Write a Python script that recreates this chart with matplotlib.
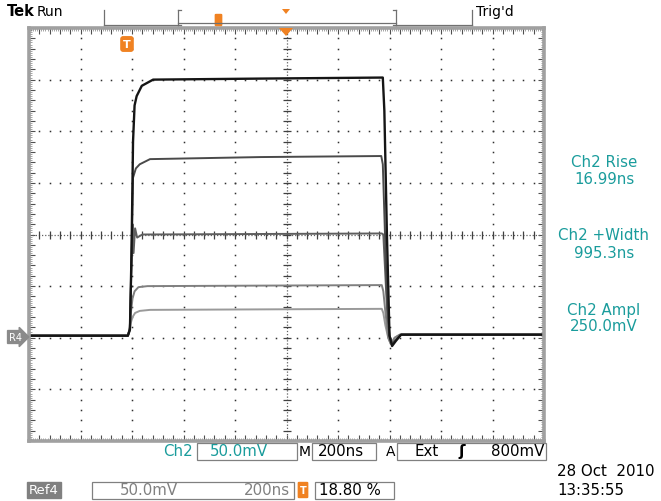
import matplotlib
matplotlib.use("Agg")
import matplotlib.pyplot as plt
import numpy as np
from matplotlib.patches import Rectangle, FancyBboxPatch, Polygon

# ---------------- data ----------------
# time in ns (0..2000 over 10 divisions, 200 ns/div), voltage in mV (center = 0, 50 mV/div)
t1 = [0, 384, 392, 398, 404, 410, 418, 438, 482, 900, 1374, 1380, 1390, 1400, 1410, 1425, 1445, 2000]
v1 = [-98, -98, -92, -20, 90, 125, 134, 144, 150, 151, 152, 120, 0, -98, -108, -103, -97, -97]

t2 = [0, 384, 392, 398, 404, 415, 430, 470, 900, 1368, 1374, 1380, 1390, 1400, 1410, 1425, 1445, 2000]
v2 = [-98, -98, -92, -20, 55, 64, 68, 73, 75, 76, 68, 20, -60, -98, -106, -102, -97, -97]

t3 = [0, 384, 392, 398, 402, 406, 412, 420, 440, 1370, 1376, 1384, 1392, 1400, 1410, 1425, 1445, 2000]
v3 = [-98, -98, -90, -30, 10, -18, 6, -3, 0, 1, 0, -40, -80, -98, -106, -102, -97, -97]

t4 = [0, 384, 390, 396, 402, 410, 425, 460, 1370, 1376, 1384, 1395, 1405, 1420, 1440, 2000]
v4 = [-98, -98, -92, -75, -62, -55, -51, -50, -49, -55, -75, -100, -106, -100, -97, -97]

t5 = [0, 384, 390, 396, 402, 412, 430, 470, 1370, 1376, 1384, 1395, 1405, 1420, 1440, 2000]
v5 = [-98, -98, -94, -85, -80, -76, -74, -73, -72, -76, -88, -100, -106, -100, -97, -97]

traces = [(t5, v5, '#9a9a9a'), (t4, v4, '#808080'), (t3, v3, '#5e5e5e'),
          (t2, v2, '#4a4a4a'), (t1, v1, '#151515')]

readout_labels = ["Ch2 Rise", "16.99ns", "Ch2 +Width", "995.3ns", "Ch2 Ampl", "250.0mV"]

# ---------------- figure ----------------
W, H = 661, 502
fig = plt.figure(figsize=(W / 100, H / 100), dpi=100)
fig.patch.set_facecolor('white')

def fx(x):
    return x / W

def fy(y):
    return 1 - y / H

L, R, T, B = 29, 544, 29, 442
ax = fig.add_axes([fx(L), fy(B), (R - L) / W, (B - T) / H])
ax.set_xlim(0, 2000)
ax.set_ylim(-200, 200)
ax.set_facecolor('white')

DX, DY = 200, 50  # per division
# dotted graticule
dotc = '#303030'
for k in range(1, 10):
    if k == 5:
        continue
    ys = np.arange(-200, 200.01, DY / 5)
    ax.plot(np.full_like(ys, k * DX), ys, ls='none', marker='s', ms=1.1, color=dotc, mew=0)
for j in range(-3, 4):
    if j == 0:
        continue
    xs = np.arange(0, 2000.01, DX / 5)
    ax.plot(xs, np.full_like(xs, j * DY), ls='none', marker='s', ms=1.1, color=dotc, mew=0)

# center lines
ax.plot([1000, 1000], [-200, 200], ls=(0, (1, 1.5)), color='#606060', lw=0.9)
ax.plot([0, 2000], [0, 0], ls=(0, (1, 1.5)), color='#606060', lw=0.9)
ys = np.arange(-200, 200.01, DY / 5)
ax.plot(np.full_like(ys, 1000), ys, ls='none', marker='_', ms=6, color='#404040', mew=0.9)
xs = np.arange(0, 2000.01, DX / 5)
ax.plot(xs, np.zeros_like(xs), ls='none', marker='|', ms=6, color='#404040', mew=0.9)

# traces
for i, (t, v, c) in enumerate(traces):
    ax.plot(t, v, color=c, lw=1.7 if i == 4 else 1.4, solid_joinstyle='round')

# frame ticks
ax.set_xticks(np.arange(0, 2001, DX / 5))
ax.set_yticks(np.arange(-200, 201, DY / 5))
ax.set_xticks(np.arange(0, 2001, DX / 25), minor=True)
ax.set_yticks(np.arange(-200, 201, DY / 25), minor=True)
ax.tick_params(which='major', direction='in', length=4, width=0.8, color='#505050',
               top=True, right=True, labelbottom=False, labelleft=False)
ax.tick_params(which='minor', direction='in', length=2, width=0.5, color='#808080',
               top=True, right=True)
for s in ax.spines.values():
    s.set_color('#a0a0a0')
    s.set_linewidth(2.6)

# ---------------- texts ----------------
fam = 'DejaVu Sans'
teal = '#1a9c9c'
orange = '#f08222'
fs = 10.8

fig.text(fx(7), fy(12), 'Tek', fontsize=10.5, fontweight='bold', family=fam, va='center', ha='left')
fig.text(fx(37), fy(12), 'Run', fontsize=10, family=fam, va='center', ha='left')
fig.text(fx(476), fy(12), "Trig'd", fontsize=10, family=fam, va='center', ha='left')

lines = [
    ([104, 104], [11, 26]), ([104, 178], [26, 26]),
    ([178, 178], [11, 26]), ([178, 396], [24, 24]), ([396, 396], [11, 26]),
    ([396, 472], [26, 26]), ([472, 472], [11, 26]),
]
for xs_, ys_ in lines:
    fig.add_artist(plt.Line2D([fx(a) for a in xs_], [fy(b) for b in ys_], color='#707070', lw=0.9))
for xa, xb in [(178, 181), (396, 393)]:
    for yy in (11, 26):
        fig.add_artist(plt.Line2D([fx(xa), fx(xb)], [fy(yy), fy(yy)], color='#707070', lw=0.9))

# orange markers
fig.add_artist(FancyBboxPatch((fx(216), fy(26)), 5 / W, 10 / H, boxstyle='round,pad=0.001',
                              transform=fig.transFigure, fc=orange, ec=orange))
fig.add_artist(Polygon([[fx(282), fy(10)], [fx(290), fy(10)], [fx(286), fy(15)]],
                       closed=True, transform=fig.transFigure, fc=orange, ec='none'))
fig.add_artist(Polygon([[fx(279), fy(29)], [fx(293), fy(29)], [fx(286), fy(37)]],
                       closed=True, transform=fig.transFigure, fc=orange, ec='none', zorder=5))
fig.text(fx(127), fy(45), 'T', fontsize=8, fontweight='bold', color='white', family=fam,
         ha='center', va='center',
         bbox=dict(boxstyle='round,pad=0.2', fc=orange, ec=orange))

# R4 marker
fig.text(fx(9), fy(338), 'R4', fontsize=7, color='white', family=fam, ha='left', va='center',
         bbox=dict(boxstyle='rarrow,pad=0.15', fc='#8a8a8a', ec='#8a8a8a'))

# right readouts
ry = [163, 180, 236, 253, 310, 327]
for lab, yy in zip(readout_labels, ry):
    fig.text(fx(604), fy(yy), lab, fontsize=fs, color=teal, family=fam, ha='center', va='center')

def box(x0, y0, x1, y1, ec='#808080'):
    fig.add_artist(Rectangle((fx(x0), fy(y1)), (x1 - x0) / W, (y1 - y0) / H,
                             transform=fig.transFigure, fc='none', ec=ec, lw=0.9))

# bottom row 1
fig.text(fx(163), fy(452), 'Ch2', fontsize=fs, color=teal, family=fam, ha='left', va='center')
box(197, 444, 297, 461)
fig.text(fx(210), fy(452), '50.0mV', fontsize=fs, color=teal, family=fam, ha='left', va='center')
fig.text(fx(299), fy(452), 'M', fontsize=10, color='black', family=fam, ha='left', va='center')
box(312, 444, 376, 461)
fig.text(fx(318), fy(452), '200ns', fontsize=fs, color='black', family=fam, ha='left', va='center')
fig.text(fx(386), fy(452), 'A', fontsize=10, color='black', family=fam, ha='left', va='center')
box(397, 444, 546, 461)
fig.text(fx(415), fy(452), 'Ext', fontsize=fs, color='black', family=fam, ha='left', va='center')
fig.text(fx(462), fy(452), 'ʃ', fontsize=11, color='black', family=fam, ha='center', va='center',
         fontweight='bold')
fig.text(fx(544), fy(452), '800mV', fontsize=fs, color='black', family=fam, ha='right', va='center')

# bottom row 2
fig.text(fx(29), fy(491), 'Ref4', fontsize=9.5, color='white', family=fam, ha='left', va='center',
         bbox=dict(boxstyle='square,pad=0.15', fc='#808080', ec='#808080'))
box(92, 483, 294, 500)
fig.text(fx(120), fy(491), '50.0mV', fontsize=fs, color='#808080', family=fam, ha='left', va='center')
fig.text(fx(290), fy(491), '200ns', fontsize=fs, color='#808080', family=fam, ha='right', va='center')
fig.add_artist(FancyBboxPatch((fx(299), fy(498)), 8 / W, 14 / H, boxstyle='round,pad=0.001',
                              transform=fig.transFigure, fc=orange, ec=orange))
fig.text(fx(303), fy(491), 'T', fontsize=7, color='white', fontweight='bold', family=fam,
         ha='center', va='center')
box(315, 483, 394, 500)
fig.text(fx(319), fy(491), '18.80 %', fontsize=fs, color='black', family=fam, ha='left', va='center')

fig.text(fx(557), fy(472), '28 Oct  2010', fontsize=fs, color='black', family=fam, ha='left', va='center')
fig.text(fx(557), fy(491), '13:35:55', fontsize=fs, color='black', family=fam, ha='left', va='center')

fig.savefig('out.png', dpi=100, facecolor='white')
